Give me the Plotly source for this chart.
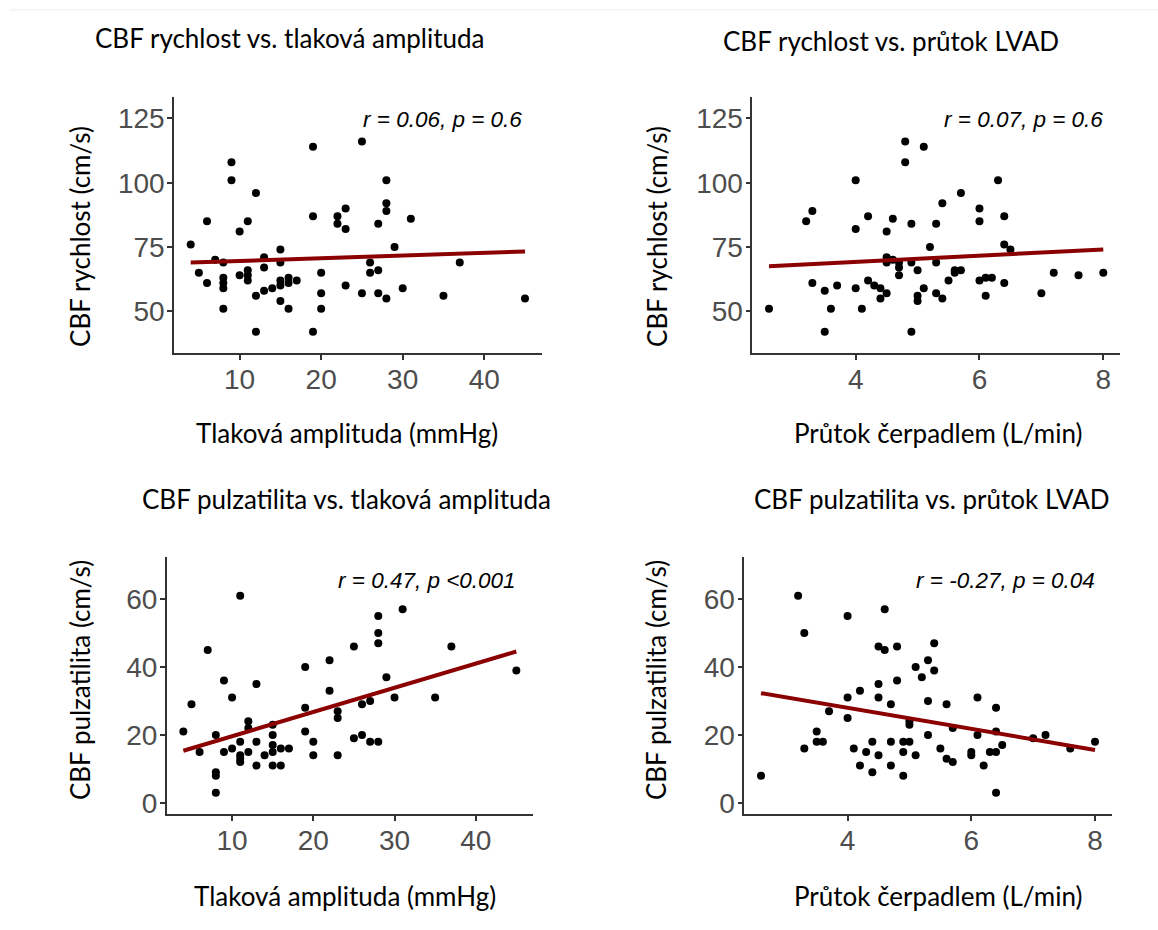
import numpy as np
import plotly.graph_objects as go

W, H = 1158, 930

# --- data -------------------------------------------------------------
# CBF rychlost vs. tlaková amplituda
amp_v = [4, 5, 6, 6, 7, 8, 8, 8, 8, 8, 9, 9, 10, 10, 11, 11, 11, 11, 12, 12, 12,
         13, 13, 13, 14, 15, 15, 15, 15, 15, 16, 16, 16, 17, 19, 19, 19, 20, 20, 20,
         22, 22, 23, 23, 23, 25, 25, 26, 26, 27, 27, 27, 28, 28, 28, 28, 29, 30, 31,
         35, 37, 45]
vel_a = [76, 65, 61, 85, 70, 69, 63, 61, 59, 51, 108, 101, 81, 64, 85, 66, 64, 62,
         96, 56, 42, 71, 67, 58, 59, 74, 69, 62, 60, 54, 63, 61, 51, 62, 114, 87, 42,
         65, 57, 51, 87, 84, 90, 82, 60, 116, 57, 69, 65, 84, 66, 57, 101, 92, 89, 55,
         75, 59, 86, 56, 69, 55]

# CBF rychlost vs. průtok LVAD
flow_v = [2.6, 3.2, 3.3, 3.3, 3.5, 3.5, 3.6, 3.7, 4.0, 4.0, 4.0, 4.1, 4.2, 4.2, 4.3,
          4.4, 4.4, 4.5, 4.5, 4.5, 4.5, 4.6, 4.6, 4.7, 4.7, 4.7, 4.8, 4.8, 4.9, 4.9,
          4.9, 5.0, 5.0, 5.0, 5.1, 5.1, 5.2, 5.3, 5.3, 5.3, 5.4, 5.4, 5.5, 5.6, 5.6,
          5.7, 5.7, 6.0, 6.0, 6.0, 6.1, 6.1, 6.2, 6.3, 6.4, 6.4, 6.4, 6.5, 7.0, 7.2,
          7.6, 8.0]
vel_f = [51, 85, 89, 61, 58, 42, 51, 60, 101, 82, 59, 51, 87, 62, 60, 59, 55, 81, 71,
         69, 57, 86, 70, 69, 67, 64, 116, 108, 84, 69, 42, 66, 56, 54, 114, 59, 75, 84,
         69, 57, 92, 55, 62, 66, 65, 96, 66, 90, 85, 62, 56, 63, 63, 101, 87, 76, 61,
         74, 57, 65, 64, 65]

# CBF pulzatilita vs. tlaková amplituda
amp_p = [4, 5, 6, 7, 8, 8, 8, 8, 9, 9, 10, 10, 11, 11, 11, 11, 11, 12, 12, 12, 13, 13,
         13, 14, 15, 15, 15, 15, 15, 16, 16, 17, 19, 19, 19, 20, 20, 22, 22, 23, 23, 23,
         25, 25, 26, 26, 27, 27, 28, 28, 28, 28, 29, 30, 31, 35, 37, 45]
puls_a = [21, 29, 15, 45, 20, 9, 8, 3, 36, 15, 31, 16, 61, 18, 14, 13, 12, 24, 22, 15,
          35, 18, 11, 14, 23, 20, 17, 15, 11, 16, 11, 16, 40, 28, 21, 18, 14, 42, 33,
          27, 25, 14, 46, 19, 29, 20, 30, 18, 55, 50, 47, 18, 37, 31, 57, 31, 46, 39]

# CBF pulzatilita vs. průtok LVAD
flow_p = [2.6, 3.2, 3.3, 3.3, 3.5, 3.5, 3.6, 3.7, 4.0, 4.0, 4.0, 4.1, 4.2, 4.2, 4.3,
          4.4, 4.4, 4.5, 4.5, 4.5, 4.5, 4.6, 4.6, 4.7, 4.7, 4.7, 4.8, 4.8, 4.9, 4.9,
          4.9, 5.0, 5.0, 5.0, 5.1, 5.1, 5.2, 5.3, 5.3, 5.3, 5.4, 5.4, 5.5, 5.6, 5.6,
          5.7, 5.7, 6.0, 6.0, 6.1, 6.1, 6.2, 6.3, 6.4, 6.4, 6.4, 6.4, 6.5, 7.0, 7.2,
          7.6, 8.0]
puls_f = [8, 61, 50, 16, 21, 18, 18, 27, 55, 31, 25, 16, 33, 11, 15, 18, 9, 46, 35, 31,
          14, 57, 45, 29, 18, 11, 46, 36, 18, 15, 8, 24, 23, 18, 40, 14, 37, 42, 30, 20,
          47, 39, 16, 29, 13, 22, 12, 15, 14, 31, 20, 11, 15, 28, 21, 15, 3, 17, 19, 20,
          16, 18]

titles = ["CBF rychlost vs. tlaková amplituda", "CBF rychlost vs. průtok LVAD",
          "CBF pulzatilita vs. tlaková amplituda", "CBF pulzatilita vs. průtok LVAD"]
x_titles = ["Tlaková amplituda (mmHg)", "Průtok čerpadlem (L/min)",
            "Tlaková amplituda (mmHg)", "Průtok čerpadlem (L/min)"]
y_titles = ["CBF rychlost (cm/s)", "CBF rychlost (cm/s)",
            "CBF pulzatilita (cm/s)", "CBF pulzatilita (cm/s)"]
stats = ["r = 0.06, p = 0.6", "r = 0.07, p = 0.6",
         "r = 0.47, p <0.001", "r = -0.27, p = 0.04"]

ticks_amp = [10, 20, 30, 40]
ticks_flow = [4, 6, 8]
ticks_vel = [50, 75, 100, 125]
ticks_puls = [0, 20, 40, 60]

# --- layout helpers ---------------------------------------------------
def px_x(v):
    return v / W


def px_y(v):
    return 1 - v / H


panels = [
    dict(x=amp_v, y=vel_a, box=(174, 541.7, 97, 355), xr=[1.95, 47.05], yr=[33.6, 133.5],
         xt=ticks_amp, yt=ticks_vel),
    dict(x=flow_v, y=vel_f, box=(752.3, 1120, 97, 355), xr=[2.33, 8.27], yr=[33.6, 133.5],
         xt=ticks_flow, yt=ticks_vel),
    dict(x=amp_p, y=puls_a, box=(166.7, 533, 559, 817.7), xr=[1.95, 47.05], yr=[-3.34, 72.5],
         xt=ticks_amp, yt=ticks_puls),
    dict(x=flow_p, y=puls_f, box=(744.3, 1111.7, 559, 817.7), xr=[2.33, 8.27], yr=[-3.34, 72.5],
         xt=ticks_flow, yt=ticks_puls),
]

# text placement (pixel centres)
title_pos = [(290, 38), (891, 41), (346, 501), (932, 501)]
xtitle_pos = [(347, 435), (938, 435), (345, 900), (938, 900)]
ytitle_pos = [(80, 238), (657, 238), (80, 683), (656, 683)]
stat_pos = [(442, 120), (1023, 120), (427, 583), (1005, 583)]

fig = go.Figure()
axis_common = dict(
    showline=True, linecolor="#333333", linewidth=1.5,
    ticks="outside", ticklen=5, tickwidth=1.5, tickcolor="#333333",
    showgrid=False, zeroline=False,
    tickfont=dict(family="Liberation Sans, Arial, sans-serif", size=28, color="#4d4d4d"),
)

annotations = []
for i, p in enumerate(panels):
    n = i + 1
    xa = "x" if n == 1 else f"x{n}"
    ya = "y" if n == 1 else f"y{n}"
    xs = np.array(p["x"], dtype=float)
    ys = np.array(p["y"], dtype=float)

    fig.add_trace(go.Scatter(
        x=xs, y=ys, mode="markers", xaxis=xa, yaxis=ya,
        marker=dict(color="black", size=8), showlegend=False, hoverinfo="x+y",
    ))

    # least-squares trend line over the observed x range
    slope, icpt = np.polyfit(xs, ys, 1)
    lx = np.array([xs.min(), xs.max()])
    fig.add_trace(go.Scatter(
        x=lx, y=icpt + slope * lx, mode="lines", xaxis=xa, yaxis=ya,
        line=dict(color="#8b0000", width=4), showlegend=False, hoverinfo="skip",
    ))

    x0, x1, y0, y1 = p["box"]
    fig.update_layout(**{
        ("xaxis" if n == 1 else f"xaxis{n}"): dict(
            domain=[px_x(x0), px_x(x1)], range=p["xr"], tickvals=p["xt"],
            anchor=ya, ticklabelstandoff=-5, **axis_common),
        ("yaxis" if n == 1 else f"yaxis{n}"): dict(
            domain=[px_y(y1), px_y(y0)], range=p["yr"], tickvals=p["yt"],
            anchor=xa, ticklabelstandoff=-3, **axis_common),
    })

    tx, ty = title_pos[i]
    annotations.append(dict(
        text=titles[i], x=px_x(tx), y=px_y(ty), xref="paper", yref="paper",
        xanchor="center", yanchor="middle", showarrow=False,
        font=dict(family="Lato, Open Sans, sans-serif", size=26, color="black")))
    tx, ty = xtitle_pos[i]
    annotations.append(dict(
        text=x_titles[i], x=px_x(tx), y=px_y(ty), xref="paper", yref="paper",
        xanchor="center", yanchor="middle", showarrow=False,
        font=dict(family="Lato, Open Sans, sans-serif", size=26, color="black")))
    tx, ty = ytitle_pos[i]
    annotations.append(dict(
        text=y_titles[i], x=px_x(tx), y=px_y(ty), xref="paper", yref="paper",
        xanchor="center", yanchor="middle", showarrow=False, textangle=-90,
        font=dict(family="Lato, Open Sans, sans-serif", size=26, color="black")))
    tx, ty = stat_pos[i]
    annotations.append(dict(
        text=f"<i>{stats[i]}</i>", x=px_x(tx), y=px_y(ty), xref="paper", yref="paper",
        xanchor="center", yanchor="middle", showarrow=False,
        font=dict(family="Liberation Sans, Arial, sans-serif", size=22.5, color="black")))

fig.update_layout(
    width=W, height=H,
    margin=dict(l=0, r=0, t=0, b=0),
    paper_bgcolor="white", plot_bgcolor="white",
    annotations=annotations,
    shapes=[dict(type="line", xref="paper", yref="paper",
                 x0=px_x(10), x1=1, y0=px_y(10), y1=px_y(10),
                 line=dict(color="#ededed", width=1))],
)

fig.write_html("out.html")
